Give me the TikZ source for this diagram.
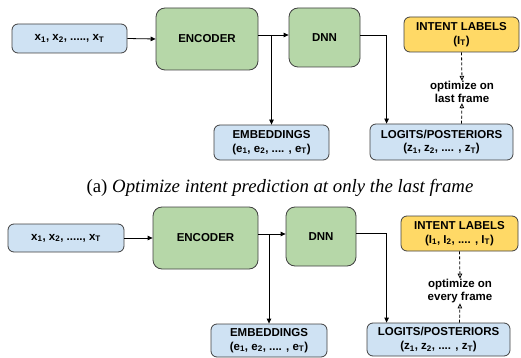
\documentclass[tikz,border=0pt]{standalone}
\usepackage{fontspec}
\setmainfont{Liberation Serif}
\newfontfamily\arialf{Liberation Sans Bold}
\usetikzlibrary{arrows.meta,calc}
\definecolor{bluefill}{HTML}{CFE2F3}
\definecolor{greenfill}{HTML}{B6D7A8}
\definecolor{yellowfill}{HTML}{FFD966}
\definecolor{edge}{HTML}{404040}
\tikzset{
  box/.style={draw=edge, line width=0.8pt, rounded corners=6pt, align=center, inner sep=1pt,
    font=\arialf\fontsize{11.5}{13.5}\selectfont},
  bluebox/.style={box, fill=bluefill},
  greenbox/.style={box, fill=greenfill, rounded corners=9pt},
  yellowbox/.style={box, fill=yellowfill},
  conn/.style={line width=0.8pt, -{Triangle[length=5pt,width=4.5pt]}},
  dconn/.style={line width=0.8pt, dashed, dash pattern=on 3pt off 2pt, -{Triangle[open,length=5pt,width=4.5pt]}},
  note/.style={align=center, font=\arialf\fontsize{11.5}{13.5}\selectfont, inner sep=0pt},
  caption/.style={font=\fontsize{18.8}{22}\selectfont, inner sep=0pt}
}
\newcommand{\sbs}[1]{\textsubscript{#1}}
\begin{document}
\begin{tikzpicture}[x=1pt,y=-1pt]
\useasboundingbox (0,0) rectangle (521,358);
% ---------- diagram (a) ----------
\node[bluebox, minimum width=115pt, minimum height=29pt] (in1) at (69.5,38.5) {x\sbs{1}, x\sbs{2}, ....., x\sbs{T}};
\node[greenbox, minimum width=102pt, minimum height=62pt] (enc1) at (207,39) {ENCODER};
\node[greenbox, minimum width=71pt, minimum height=59pt] (dnn1) at (324.5,37.5) {DNN};
\node[yellowbox, minimum width=115pt, minimum height=35pt] (int1) at (461.5,34.5) {INTENT LABELS\\(I\sbs{T})};
\node[bluebox, minimum width=115pt, minimum height=35pt] (emb1) at (271.5,142.5) {EMBEDDINGS\\(e\sbs{1}, e\sbs{2}, .... , e\sbs{T})};
\node[bluebox, minimum width=143pt, minimum height=36pt] (log1) at (441.5,142) {LOGITS/POSTERIORS\\(z\sbs{1}, z\sbs{2}, .... , z\sbs{T})};
\coordinate (l1a) at ($(enc1.east)+(0,-4)$);
\coordinate (l1b) at ($(dnn1.west)+(0,-2.5)$);
\coordinate (d1a) at ($(dnn1.east)+(0,-2.5)$);
\coordinate (d1b) at ($(log1.north west)+(17,0)$);
\draw[conn] (in1.east) -- (enc1.west);
\draw[conn] (l1a) -- (l1b);
\draw[conn] (emb1.north |- l1a) -- (emb1.north);
\draw[conn] (d1a) -| (d1b);
\node[note] (opt1) at (462,92) {optimize on\\last frame};
\draw[dconn] (int1.south) -- (opt1.north);
\draw[dconn] (int1.south |- log1.north) -- (opt1.south);
% caption
\node[caption] (cap) at (280,188) {(a) \textit{Optimize intent prediction at only the last frame}};
% ---------- diagram (b) ----------
\node[bluebox, minimum width=116pt, minimum height=28pt] (in2) at (66,238) {x\sbs{1}, x\sbs{2}, ....., x\sbs{T}};
\node[greenbox, minimum width=105pt, minimum height=62pt] (enc2) at (205.5,238) {ENCODER};
\node[greenbox, minimum width=70pt, minimum height=59pt] (dnn2) at (321,236.5) {DNN};
\node[yellowbox, minimum width=117pt, minimum height=35pt] (int2) at (459.5,233.5) {INTENT LABELS\\(I\sbs{1}, I\sbs{2}, .... , I\sbs{T})};
\node[bluebox, minimum width=116pt, minimum height=33pt] (emb2) at (269,340.5) {EMBEDDINGS\\(e\sbs{1}, e\sbs{2}, .... , e\sbs{T})};
\node[bluebox, minimum width=143pt, minimum height=33pt] (log2) at (438.5,339.5) {LOGITS/POSTERIORS\\(z\sbs{1}, z\sbs{2}, .... , z\sbs{T})};
\coordinate (l2a) at ($(enc2.east)+(0,-4)$);
\coordinate (l2b) at ($(dnn2.west)+(0,-2.5)$);
\coordinate (d2a) at ($(dnn2.east)+(0,-3.5)$);
\coordinate (d2b) at ($(log2.north west)+(20,0)$);
\draw[conn] (in2.east) -- (enc2.west);
\draw[conn] (l2a) -- (l2b);
\draw[conn] (emb2.north |- l2a) -- (emb2.north);
\draw[conn] (d2a) -| (d2b);
\node[note] (opt2) at (460,291) {optimize on\\every frame};
\draw[dconn] (int2.south) -- (opt2.north);
\draw[dconn] (int2.south |- log2.north) -- (opt2.south);
\end{tikzpicture}
\end{document}
